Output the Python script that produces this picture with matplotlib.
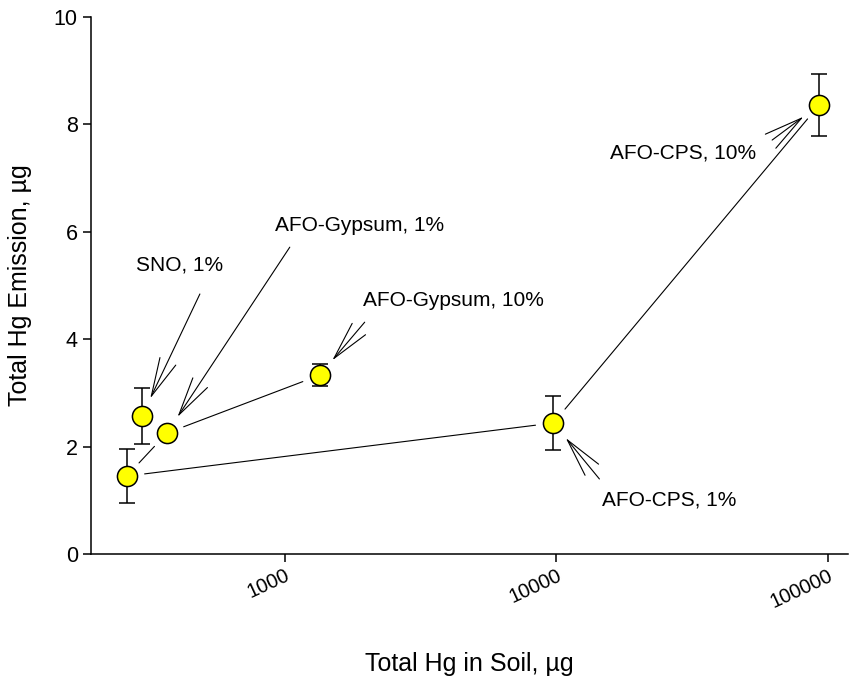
import numpy as np
import matplotlib
matplotlib.use('Agg')
import matplotlib.pyplot as plt
from matplotlib.ticker import FixedLocator, NullLocator, FixedFormatter

plt.rcParams['font.family'] = ['Liberation Sans', 'DejaVu Sans']

### Dati
soil_hg = [262, 298, 368, 1345, 9750, 92700]
emission = [1.45, 2.57, 2.25, 3.33, 2.44, 8.36]
emission_err = [0.50, 0.52, 0.10, 0.20, 0.50, 0.57]
point_names = ['', 'SNO, 1%', 'AFO-Gypsum, 1%', 'AFO-Gypsum, 10%', 'AFO-CPS, 1%', 'AFO-CPS, 10%']
links = [(0, 2), (2, 3), (0, 4), (4, 5)]
x_ticks = [1000, 10000, 100000]
y_ticks = [0, 2, 4, 6, 8, 10]

# offset (pixel, y verso il basso) di coda freccia e testo rispetto al punto
arrow_tail = {1: (58, -122), 2: (123, -186), 3: (45, -53), 4: (46, 56), 5: (-47, 35)}
text_pos = {1: (-6, -151), 2: (108, -208), 3: (43, -75), 4: (49, 77), 5: (-209, 48)}

fig = plt.figure(figsize=(8.49, 6.81), dpi=100)
ax = fig.add_axes([91 / 849, 1 - 554 / 681, 757 / 849, (554 - 17) / 681])
ax.set_xscale('log')
ax.set_xlim(193.6, 118400)
ax.set_ylim(0, 10)

# linee di collegamento (con spazio vicino ai punti)
for a, b in links:
    ax.annotate('', xy=(soil_hg[b], emission[b]), xytext=(soil_hg[a], emission[a]),
                arrowprops=dict(arrowstyle='-', lw=0.8, color='black',
                                shrinkA=13, shrinkB=13))

ax.errorbar(soil_hg, emission, yerr=emission_err, fmt='o', ms=14.5,
            mfc='#FFFF00', mec='black', mew=1.1, ecolor='black',
            elinewidth=1.1, capsize=6, capthick=1.1, zorder=3)

px = 0.72  # pixel -> punti
for i, name in enumerate(point_names):
    if not name:
        continue
    tx, ty = arrow_tail[i]
    ax.annotate('', xy=(soil_hg[i], emission[i]), xytext=(tx * px, -ty * px),
                textcoords='offset points',
                arrowprops=dict(arrowstyle='->, head_length=1.85, head_width=0.42',
                                lw=0.8, color='black', shrinkA=0, shrinkB=14,
                                mutation_scale=15))
    lx, ly = text_pos[i]
    ax.annotate(name, xy=(soil_hg[i], emission[i]), xytext=(lx * px, -ly * px),
                textcoords='offset points', ha='left', va='center', fontsize=15)

ax.spines['top'].set_visible(False)
ax.spines['right'].set_visible(False)
for s in ['left', 'bottom']:
    ax.spines[s].set_linewidth(1.1)

ax.xaxis.set_major_locator(FixedLocator(x_ticks))
ax.xaxis.set_major_formatter(FixedFormatter([str(t) for t in x_ticks]))
ax.xaxis.set_minor_locator(NullLocator())
ax.set_yticks(y_ticks)
ax.tick_params(axis='both', direction='out', length=5.5, width=1.1)
ax.tick_params(axis='y', labelsize=15.5, pad=4)
ax.tick_params(axis='x', labelsize=14.5, pad=3)
plt.setp(ax.get_xticklabels(), rotation=25, ha='right', rotation_mode='anchor')

ax.set_xlabel('Total Hg in Soil, µg', fontsize=18)
ax.set_ylabel('Total Hg Emission, µg', fontsize=18)
ax.xaxis.set_label_coords(0.5, -0.182)
ax.yaxis.set_label_coords(-0.078, 0.5)

plt.savefig('out.png', dpi=100)
